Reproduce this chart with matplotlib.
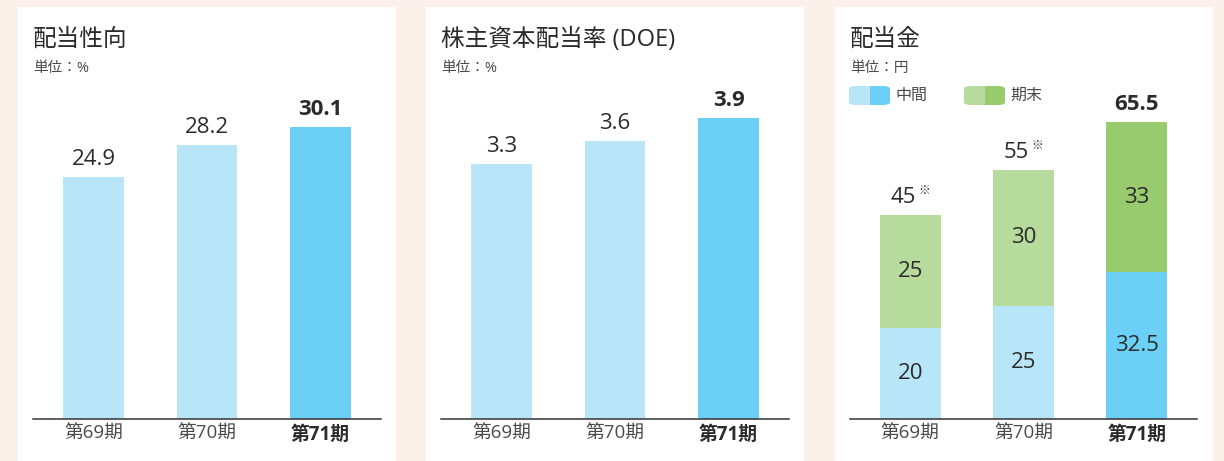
import matplotlib
matplotlib.use("Agg")
import matplotlib.pyplot as plt
from matplotlib.patches import Rectangle, FancyBboxPatch

plt.rcParams['font.family'] = ['Open Sans', 'Noto Sans CJK JP', 'DejaVu Sans']

# ---- data ----
categories = ["第69期", "第70期", "第71期"]
payout_ratio = [24.9, 28.2, 30.1]
payout_labels = ["24.9", "28.2", "30.1"]
doe = [3.3, 3.6, 3.9]
doe_labels = ["3.3", "3.6", "3.9"]
interim = [20, 25, 32.5]
interim_labels = ["20", "25", "32.5"]
year_end = [25, 30, 33]
year_end_labels = ["25", "30", "33"]
totals = [45, 55, 65.5]
total_labels = ["45", "55", "65.5"]
total_marks = ["※", "※", ""]

titles = ["配当性向", "株主資本配当率 (DOE)", "配当金"]
units = ["単位：%", "単位：%", "単位：円"]
legend_labels = ["中間", "期末"]

# ---- style ----
BG = "#fcf0eb"
LIGHT_BLUE = "#b9e5f9"
BLUE = "#6bcff6"
LIGHT_GREEN = "#b7db9c"
GREEN = "#97cb6d"
TEXT = "#2b2b2b"
GRAY = "#4a4a4a"

W, H = 1224, 461
fig = plt.figure(figsize=(W / 100, H / 100), dpi=100, facecolor=BG)


def fx(px):
    return px / W


def fy(py):
    return 1 - py / H


# white panels
panels = [(18, 396), (426, 804), (835, 1213)]
for x0, x1 in panels:
    fig.add_artist(Rectangle((fx(x0), 0), fx(x1 - x0), fy(7), transform=fig.transFigure,
                             facecolor="white", edgecolor="none", zorder=0))

axes_x = [(33, 381), (441, 789), (850, 1197)]
y_bottom, y_top = 419, 100
scales = [9.71, 77.2, 4.53]  # px per unit

axs = []
for (x0, x1), s in zip(axes_x, scales):
    ax = fig.add_axes([fx(x0), fy(y_bottom), fx(x1 - x0), (y_bottom - y_top) / H])
    ax.set_facecolor("none")
    ax.set_xlim(-0.533, 2.533)
    ax.set_ylim(0, (y_bottom - y_top) / s)
    for sp in ["top", "left", "right"]:
        ax.spines[sp].set_visible(False)
    ax.spines["bottom"].set_color("#333333")
    ax.spines["bottom"].set_linewidth(1.1)
    ax.set_yticks([])
    ax.set_xticks(range(len(categories)))
    ax.set_xticklabels(categories, fontsize=13.5, color=GRAY)
    ax.tick_params(axis="x", length=0, pad=4)
    tl = ax.get_xticklabels()
    tl[-1].set_fontweight("bold")
    tl[-1].set_color(TEXT)
    axs.append(ax)

x = list(range(len(categories)))
bw = 0.537

# panel 1 & 2
for ax, vals, labs in [(axs[0], payout_ratio, payout_labels), (axs[1], doe, doe_labels)]:
    colors = [LIGHT_BLUE, LIGHT_BLUE, BLUE]
    ax.bar(x, vals, width=bw, color=colors, zorder=2)
    for i, (v, l) in enumerate(zip(vals, labs)):
        ax.annotate(l, (i, v), xytext=(0, 5), textcoords="offset points", ha="center",
                    va="bottom", fontsize=16, color=TEXT,
                    fontweight="bold" if i == len(vals) - 1 else "normal")

# panel 3 stacked
ax = axs[2]
ax.bar(x, interim, width=bw, color=[LIGHT_BLUE, LIGHT_BLUE, BLUE], zorder=2)
ax.bar(x, year_end, width=bw, bottom=interim, color=[LIGHT_GREEN, LIGHT_GREEN, GREEN], zorder=2)
for i in x:
    ax.text(i, interim[i] / 2, interim_labels[i], ha="center", va="center", fontsize=16, color=TEXT)
    ax.text(i, interim[i] + year_end[i] / 2, year_end_labels[i], ha="center", va="center",
            fontsize=16, color=TEXT)
    if total_marks[i]:
        ax.annotate(total_labels[i], (i, totals[i]), xytext=(4, 5), textcoords="offset points",
                    ha="right", va="bottom", fontsize=16, color=TEXT)
        ax.annotate(total_marks[i], (i, totals[i]), xytext=(5.5, 13), textcoords="offset points",
                    ha="left", va="bottom", fontsize=8.5, color=TEXT,
                    family=['Noto Sans CJK JP'])
    else:
        ax.annotate(total_labels[i], (i, totals[i]), xytext=(0, 5), textcoords="offset points",
                    ha="center", va="bottom", fontsize=16, color=TEXT, fontweight="bold")

# titles and units
for (x0, _), t, u in zip(axes_x, titles, units):
    fig.text(fx(x0), fy(46), t, fontsize=17, color=TEXT, va="baseline", ha="left")
    fig.text(fx(x0), fy(72), u, fontsize=10.5, color=GRAY, va="baseline", ha="left")

# legend (panel 3)
leg_items = [(849, 890, LIGHT_BLUE, BLUE, legend_labels[0]),
             (964, 1005, LIGHT_GREEN, GREEN, legend_labels[1])]
ly0, ly1 = 86, 105
for lx0, lx1, c1, c2, lab in leg_items:
    clip = FancyBboxPatch((fx(lx0), fy(ly1)), fx(lx1 - lx0), (ly1 - ly0) / H,
                          boxstyle="round,pad=0,rounding_size=0.006",
                          transform=fig.transFigure, facecolor="none", edgecolor="none")
    fig.add_artist(clip)
    mid = (lx0 + lx1) / 2
    r1 = Rectangle((fx(lx0), fy(ly1)), fx(mid - lx0), (ly1 - ly0) / H,
                   transform=fig.transFigure, facecolor=c1, edgecolor="none")
    r2 = Rectangle((fx(mid), fy(ly1)), fx(lx1 - mid), (ly1 - ly0) / H,
                   transform=fig.transFigure, facecolor=c2, edgecolor="none")
    for r in (r1, r2):
        fig.add_artist(r)
        r.set_clip_path(clip)
    fig.text(fx(lx1 + 5), fy((ly0 + ly1) / 2), lab, fontsize=11.5, color=GRAY,
             va="center", ha="left")

fig.savefig("out.png", dpi=100, facecolor=BG)
